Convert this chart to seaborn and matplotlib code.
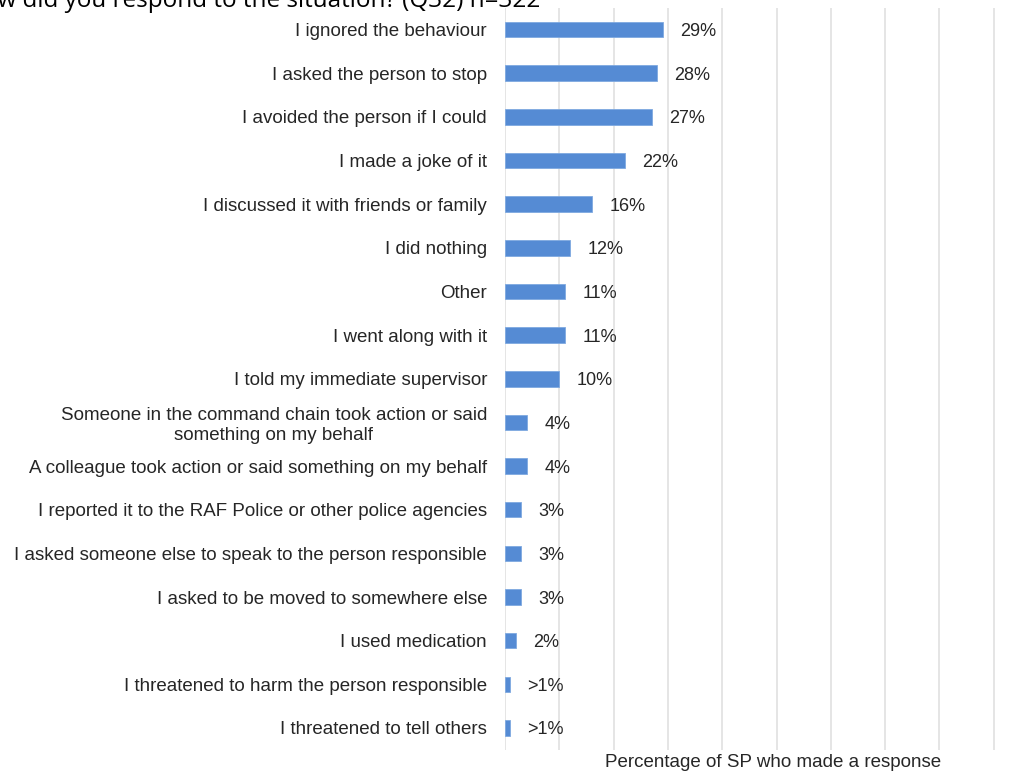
import matplotlib
matplotlib.use("Agg")
import matplotlib.pyplot as plt
import seaborn as sns
import pandas as pd

# Responses and share of service personnel (%) giving each response
responses = [
    "I ignored the behaviour",
    "I asked the person to stop",
    "I avoided the person if I could",
    "I made a joke of it",
    "I discussed it with friends or family",
    "I did nothing",
    "Other",
    "I went along with it",
    "I told my immediate supervisor",
    "Someone in the command chain took action or said\nsomething on my behalf",
    "A colleague took action or said something on my behalf",
    "I reported it to the RAF Police or other police agencies",
    "I asked someone else to speak to the person responsible",
    "I asked to be moved to somewhere else",
    "I used medication",
    "I threatened to harm the person responsible",
    "I threatened to tell others",
]
percentages = [29, 28, 27, 22, 16, 12, 11, 11, 10, 4, 4, 3, 3, 3, 2, 0.9, 0.9]
value_labels = ["29%", "28%", "27%", "22%", "16%", "12%", "11%", "11%", "10%",
                "4%", "4%", "3%", "3%", "3%", "2%", ">1%", ">1%"]

title = "How did you respond to the situation? (Q32) n=322"
x_label = "Percentage of SP who made a response"

df = pd.DataFrame({"response": responses, "pct": percentages})

sns.set_theme(style="white")
plt.rcParams["font.family"] = ["Liberation Sans", "DejaVu Sans"]

fig = plt.figure(figsize=(10.35, 7.73), dpi=100)
# the plotting area runs past the right edge of the canvas
ax = fig.add_axes([0.488, 0.030, 0.5246, 0.960])

sns.barplot(data=df, x="pct", y="response", orient="h", color="#558BD4",
            width=0.355, saturation=1, edgecolor="#7FA9E0", linewidth=0.6, ax=ax)

ax.set_xlim(0, 100)
ax.set_xticks(range(0, 101, 10))
ax.xaxis.grid(True, color="#E3E3E3", linewidth=1.3)
ax.set_axisbelow(True)
ax.tick_params(axis="x", length=0, labelbottom=False)
ax.tick_params(axis="y", length=0, pad=13, labelsize=13.5, labelcolor="#262626")
for lbl in ax.get_yticklabels():
    lbl.set_horizontalalignment("right")
    lbl.set_multialignment("center")
for s in ax.spines.values():
    s.set_visible(False)

ax.set_ylabel("")
ax.set_xlabel(x_label, fontsize=13.5, color="#262626", labelpad=6)
ax.xaxis.set_label_coords(0.493, -0.006, transform=ax.transAxes)
ax.xaxis.label.set_va("top")

for i, (v, t) in enumerate(zip(percentages, value_labels)):
    ax.annotate(t, xy=(v, i), xytext=(12.5, 0), textcoords="offset points",
                va="center_baseline", ha="left", fontsize=13, color="#262626")

fig.text(-0.034, 1 - 7 / 773, title, fontsize=17.5, family=["Open Sans", "DejaVu Sans"],
         color="black", va="baseline", ha="left")

fig.savefig("out.png", dpi=100)
